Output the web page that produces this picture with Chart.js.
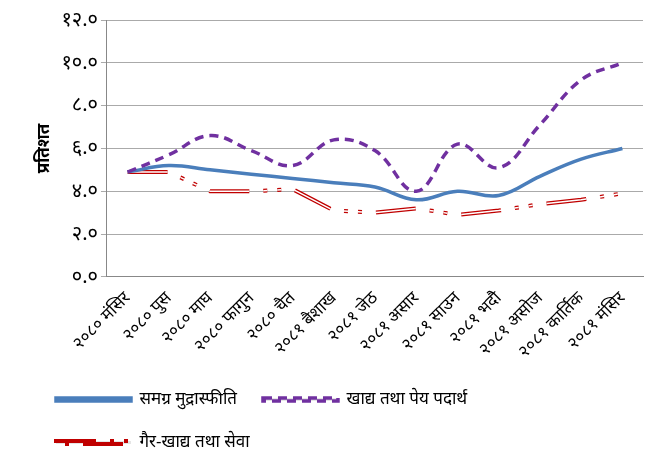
<!DOCTYPE html>
<html><head><meta charset="utf-8">
<script src="https://cdn.jsdelivr.net/npm/chart.js@4/dist/chart.umd.min.js"></script>
<style>body{margin:0;background:#fff}#wrap{width:657px;height:465px}</style>
</head><body><div id="wrap"><canvas id="c"></canvas></div>
<script>
const months = ["२०८० मंसिर","२०८० पुस","२०८० माघ","२०८० फागुन","२०८० चैत","२०८१ बैशाख","२०८१ जेठ","२०८१ असार","२०८१ साउन","२०८१ भदौ","२०८१ असोज","२०८१ कार्तिक","२०८१ मंसिर"];
const overall = [4.9,5.2,5.0,4.8,4.6,4.4,4.2,3.6,4.0,3.8,4.7,5.5,6.0];
const food = [4.9,5.7,6.6,5.9,5.2,6.4,5.9,4.0,6.2,5.1,7.1,9.2,10.0];
const nonFood = [4.9,4.9,4.0,4.0,4.1,3.1,3.0,3.2,2.9,3.1,3.4,3.6,3.9];
const devDigits = "०१२३४५६७८९";
const toDev = s => String(s).replace(/[0-9]/g, d => devDigits[d]);
const redDash = [40,14,4,10,4,14];

new Chart(document.getElementById("c"), {
  type: "line",
  data: {
    labels: months,
    datasets: [
      {label:"समग्र मुद्रास्फीति", data:overall, borderColor:"#4a7ebb", borderWidth:3.5, tension:0.4, pointRadius:0, order:1},
      {label:"खाद्य तथा पेय पदार्थ", data:food, borderColor:"#7030a0", borderWidth:3.5, borderDash:[9,6], tension:0.4, pointRadius:0, order:0},
      {label:"गैर-खाद्य तथा सेवा", data:nonFood, borderColor:"#c00000", borderWidth:4, borderDash:redDash, tension:0, pointRadius:0, order:3},
      {label:"_inner", data:nonFood, borderColor:"#ffffff", borderWidth:1.5, borderDash:redDash, tension:0, pointRadius:0, order:2}
    ]
  },
  options: {
    responsive:true, maintainAspectRatio:false, animation:false,
    layout:{padding:{left:30,right:14,top:20,bottom:4}},
    plugins:{
      legend:{position:"bottom", align:"start",
        labels:{filter:i=>i.text!=="_inner", sort:(a,b)=>a.datasetIndex-b.datasetIndex,
          boxWidth:75, boxHeight:3, padding:26, color:"#000",
          font:{family:"Noto Sans", size:17}}},
      tooltip:{enabled:false}
    },
    scales:{
      x:{offset:true, grid:{display:false}, border:{color:"#888"},
        ticks:{maxRotation:45, minRotation:45, color:"#000", font:{family:"Noto Sans", size:17}}},
      y:{min:0, max:12, grid:{color:"#aaa", drawTicks:true, tickLength:6}, border:{color:"#888"},
        ticks:{stepSize:2, color:"#000", font:{family:"Noto Sans", size:20}, callback:v=>toDev(v.toFixed(1))},
        title:{display:true, text:"प्रतिशत", color:"#000", font:{family:"Noto Sans", size:17, weight:"bold"}}}
    }
  }
});
</script></body></html>
